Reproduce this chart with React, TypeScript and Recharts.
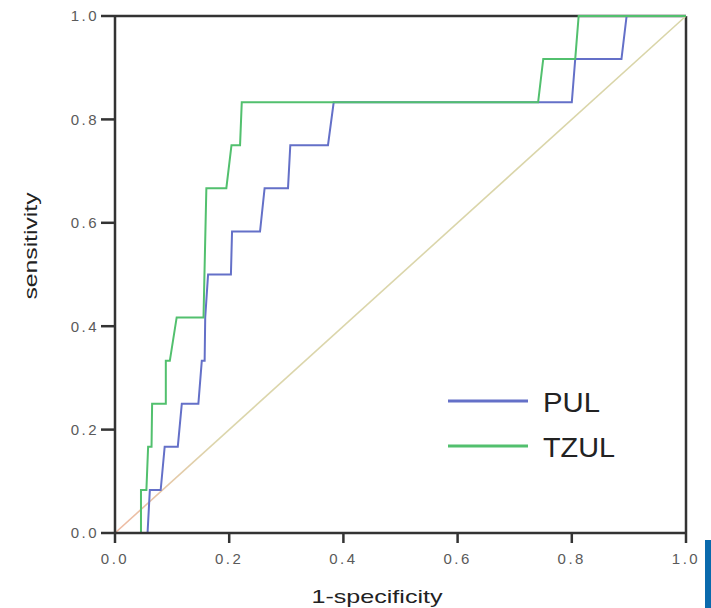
import { LineChart, Line, XAxis, YAxis, ReferenceLine } from 'recharts'

// ROC curves: false positive rate (1-specificity) vs true positive rate (sensitivity)
const pulFpr = [0, 0.057, 0.061, 0.08, 0.087, 0.11, 0.117, 0.146, 0.152, 0.157, 0.158, 0.163, 0.203, 0.205, 0.254, 0.262, 0.303, 0.307, 0.373, 0.383, 0.8, 0.806, 0.887, 0.896, 1]
const pulTpr = [0, 0, 0.083, 0.083, 0.167, 0.167, 0.25, 0.25, 0.333, 0.333, 0.417, 0.5, 0.5, 0.583, 0.583, 0.667, 0.667, 0.75, 0.75, 0.833, 0.833, 0.917, 0.917, 1, 1]

const tzulFpr = [0, 0.0455, 0.0455, 0.055, 0.058, 0.064, 0.065, 0.089, 0.089, 0.096, 0.108, 0.155, 0.16, 0.195, 0.204, 0.219, 0.222, 0.741, 0.75, 0.806, 0.812, 1]
const tzulTpr = [0, 0, 0.083, 0.083, 0.167, 0.167, 0.25, 0.25, 0.333, 0.333, 0.417, 0.417, 0.667, 0.667, 0.75, 0.75, 0.833, 0.833, 0.917, 0.917, 1, 1]

const refFpr = [0, 1]
const refTpr = [0, 1]

const ticks = [0, 0.2, 0.4, 0.6, 0.8, 1]
const seriesNames = ['PUL', 'TZUL']

const toPoints = (fpr: number[], tpr: number[]) => fpr.map((x, i) => ({ fpr: x, tpr: tpr[i] }))

const pulData = toPoints(pulFpr, pulTpr)
const tzulData = toPoints(tzulFpr, tzulTpr)
const refData = toPoints(refFpr, refTpr)

const BLUE = '#6470c8'
const GREEN = '#52c06e'
const FRAME = '#333'

const tickStyle = { fontSize: 15, fill: '#5a5a5a', fontFamily: 'Liberation Sans, Arial, sans-serif', letterSpacing: 2.5 }

export default function App() {
  return (
    <div style={{ position: 'fixed', left: 0, top: 0, width: 711, height: 608, background: '#fff', overflow: 'hidden' }}>
      <LineChart width={711} height={608} margin={{ top: 16, right: 25, bottom: 35, left: 0 }}>
        <defs>
          <linearGradient id="diagFade" x1="0" y1="1" x2="1" y2="0">
            <stop offset="0%" stopColor="#efb9a2" />
            <stop offset="18%" stopColor="#dcd6ac" />
            <stop offset="100%" stopColor="#d9d5a8" />
          </linearGradient>
        </defs>
        <XAxis
          type="number"
          dataKey="fpr"
          domain={[0, 1]}
          ticks={ticks}
          tickFormatter={(v: number) => v.toFixed(1)}
          height={40}
          tickSize={10}
          tickMargin={10}
          axisLine={{ stroke: FRAME, strokeWidth: 2.5 }}
          tickLine={{ stroke: FRAME, strokeWidth: 2.5 }}
          tick={tickStyle}
        />
        <YAxis
          type="number"
          dataKey="tpr"
          domain={[0, 1]}
          ticks={ticks}
          tickFormatter={(v: number) => v.toFixed(1)}
          width={115}
          tickSize={14}
          tickMargin={2}
          axisLine={{ stroke: FRAME, strokeWidth: 2.5 }}
          tickLine={{ stroke: FRAME, strokeWidth: 2.5 }}
          tick={tickStyle}
        />
        <ReferenceLine y={1} stroke={FRAME} strokeWidth={2.5} />
        <ReferenceLine x={1} stroke={FRAME} strokeWidth={2.5} />
        <Line data={refData} dataKey="tpr" type="linear" stroke="url(#diagFade)" strokeWidth={1.6} dot={false} isAnimationActive={false} />
        <Line data={pulData} dataKey="tpr" name={seriesNames[0]} type="linear" stroke={BLUE} strokeWidth={2} dot={false} isAnimationActive={false} />
        <Line data={tzulData} dataKey="tpr" name={seriesNames[1]} type="linear" stroke={GREEN} strokeWidth={2} dot={false} isAnimationActive={false} />
      </LineChart>

      {/* axis titles and legend */}
      <svg width={711} height={608} style={{ position: 'absolute', left: 0, top: 0, pointerEvents: 'none' }}>
        <g fontFamily="Liberation Sans, Arial, sans-serif">
          <text x={377} y={603} fontSize={19} fill="#222" textAnchor="middle" textLength={131} lengthAdjust="spacingAndGlyphs">
            1-specificity
          </text>
          <text
            transform="translate(37,246) rotate(-90)"
            fontSize={18}
            fill="#222"
            textAnchor="middle"
            textLength={107}
            lengthAdjust="spacingAndGlyphs"
          >
            sensitivity
          </text>
          <line x1={448} y1={401} x2={528} y2={401} stroke={BLUE} strokeWidth={3} />
          <text x={543} y={412} fontSize={28} fill="#222" textLength={57} lengthAdjust="spacingAndGlyphs">
            {seriesNames[0]}
          </text>
          <line x1={448} y1={446} x2={528} y2={446} stroke={GREEN} strokeWidth={3} />
          <text x={543} y={457} fontSize={28} fill="#222" textLength={72} lengthAdjust="spacingAndGlyphs">
            {seriesNames[1]}
          </text>
        </g>
        <rect x={705} y={540} width={6} height={68} fill="#0a6aad" />
      </svg>
    </div>
  )
}
